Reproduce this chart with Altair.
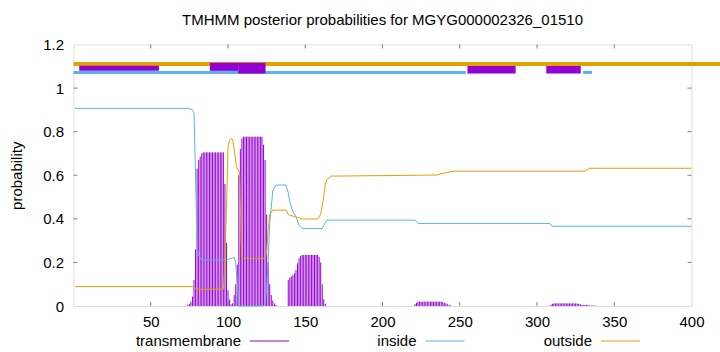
import altair as alt
import pandas as pd

FONT = "Liberation Sans"
FS = 15
PURPLE = "#9400D3"
BLUE = "#56B4E9"
ORANGE = "#E69F00"

TITLE = "TMHMM posterior probabilities for MGYG000002326_01510"

# inside probability (breakpoints)
ins_r = [1, 75, 77, 78, 79, 80, 81, 83, 99, 104, 105, 106, 107, 123, 124, 125, 126, 127,
         129, 131, 137.5, 139, 140, 142, 144, 146, 148, 161, 162, 164, 221, 223, 308, 310, 400]
ins_p = [.907, .907, .9, .885, .6, .27, .23, .211, .211, .223, .2, .1, 0, 0, .01, .08, .2, .38,
         .53, .555, .555, .52, .478, .433, .41, .37, .356, .356, .37, .394, .394, .379, .379, .366, .366]

# outside probability
out_r = [1, 77, 78, 80, 97, 98, 99, 100, 101, 102, 103, 104, 105.5, 107.5, 108.5, 109, 124, 125,
         126, 127, 129, 137.5, 139, 140, 143, 146, 148, 158, 160, 161.5, 163, 164, 167, 235, 240,
         246, 331, 334, 400]
out_p = [.089, .089, .085, .077, .077, .2, .45, .73, .76, .769, .765, .72, .64, .61, .3, .219, .219,
         .25, .35, .42, .44, .44, .42, .417, .41, .405, .399, .399, .42, .48, .56, .58, .596, .601,
         .61, .619, .619, .632, .632]

# transmembrane probability per residue (impulses)
tm_a_res = list(range(74, 132))
tm_a_val = [.006, .01, .02, .043, .12, .26, .63, .67, .685, .70,
            .705, .705, .705, .705, .705, .705, .705, .705, .705, .705, .705, .705, .705, .705,
            .56, .29, .073, .03, .008, .012, .05, .1, .19, .6, .72, .769,
            .777, .777, .777, .777, .777, .777, .777, .777, .777, .777, .777, .777, .777,
            .74, .67, .42, .2, .1, .05, .025, .012, .005]
tm_b_res = list(range(139, 164))
tm_b_val = [.119, .13, .135, .142, .15, .165, .196, .219, .23,
            .234, .234, .234, .234, .234, .234, .234, .234, .234, .234, .234,
            .225, .2, .1, .03, .01]
tm_c_res = list(range(221, 245))
tm_c_val = [.008, .015, .02, .02, .02, .02, .02, .02, .02, .02, .02, .02, .02, .02, .02, .02,
            .02, .02, .018, .015, .012, .008, .005, .003]
tm_d_res = list(range(309, 339))
tm_d_val = [.006, .01, .012, .012, .012, .012, .012, .012, .012, .012, .012, .012, .012, .012,
            .012, .012, .012, .011, .01, .008, .005, .005, .005, .005, .005,
            .002, .002, .002, .002, .002]

# predicted topology strip at the top
out_strip = [0, 425]
out_strip_y = 1.111
in_strip_start = [0, 329.8]
in_strip_end = [253.9, 335.6]
in_strip_y = 1.072
tm_box_start = [3.7, 88.3, 106.6, 255, 306]
tm_box_end = [55.3, 106.6, 124.3, 286.2, 328.3]
tm_box_lo = [1.079, 1.079, 1.067, 1.067, 1.067]
tm_box_hi = [1.102, 1.116, 1.116, 1.101, 1.101]

x_ticks = [50, 100, 150, 200, 250, 300, 350, 400]
y_ticks = [0, 0.2, 0.4, 0.6, 0.8, 1.0, 1.2]

legend_labels = ["transmembrane", "inside", "outside"]
legend_colors = [PURPLE, BLUE, ORANGE]

W, H = 618, 261.5

XS = alt.Scale(domain=[0, 400], nice=False, zero=False)
YS = alt.Scale(domain=[0, 1.2], nice=False, zero=False)
XA = alt.Axis(values=x_ticks, title=None, grid=False, ticks=False, domain=False,
              labelFont=FONT, labelFontSize=FS, labelColor="black", labelPadding=8,
              labelFlush=False)
YA = alt.Axis(values=y_ticks, title="probability", grid=False, ticks=False, domain=False,
              labelFont=FONT, labelFontSize=FS, labelColor="black", labelPadding=10,
              labelExpr="format(datum.value, '.1~f')",
              titleFont=FONT, titleFontSize=FS, titleFontWeight="normal", titleColor="black",
              titleAngle=270, titleX=-57, titleY=H / 2, titleAlign="center",
              titleBaseline="middle")


def X(f):
    return alt.X(f, type="quantitative", scale=XS, axis=XA)


def Y(f):
    return alt.Y(f, type="quantitative", scale=YS, axis=YA)


tm_df = pd.DataFrame({"res": tm_a_res + tm_b_res + tm_c_res + tm_d_res,
                      "p": tm_a_val + tm_b_val + tm_c_val + tm_d_val})
tm_layer = alt.Chart(tm_df).mark_rule(color=PURPLE, strokeWidth=1).encode(
    x=X("res"), y=Y("p"), y2=alt.datum(0))

ins_layer = alt.Chart(pd.DataFrame({"res": ins_r, "p": ins_p})).mark_line(
    color=BLUE, strokeWidth=1).encode(x=X("res"), y=Y("p"))
out_layer = alt.Chart(pd.DataFrame({"res": out_r, "p": out_p})).mark_line(
    color=ORANGE, strokeWidth=1).encode(x=X("res"), y=Y("p"))

strip_o = alt.Chart(pd.DataFrame({"a": [out_strip[0]], "b": [out_strip[1]], "y": [out_strip_y]})).mark_rule(
    color=ORANGE, strokeWidth=4, clip=False).encode(x=X("a"), x2="b", y=Y("y"))
strip_i = alt.Chart(pd.DataFrame({"a": in_strip_start, "b": in_strip_end,
                                  "y": [in_strip_y] * len(in_strip_start)})).mark_rule(
    color=BLUE, strokeWidth=3).encode(x=X("a"), x2="b", y=Y("y"))
strip_tm = alt.Chart(pd.DataFrame({"a": tm_box_start, "b": tm_box_end,
                                   "lo": tm_box_lo, "hi": tm_box_hi})).mark_rect(
    color=PURPLE).encode(x=X("a"), x2="b", y=Y("lo"), y2="hi")

# inward gnuplot-style tick marks on all four sides
TL_X = 4 / (W / 400)
TL_Y = 4 / (H / 1.2)
xt = [v for v in x_ticks if v < 400]
yt = [v for v in y_ticks if 0 < v < 1.2]
tick_df = pd.DataFrame(
    {"x": xt + xt + [0] * len(yt) + [400] * len(yt),
     "x2": xt + xt + [TL_X] * len(yt) + [400 - TL_X] * len(yt),
     "y": [0] * len(xt) + [1.2] * len(xt) + yt + yt,
     "y2": [TL_Y] * len(xt) + [1.2 - TL_Y] * len(xt) + yt + yt})
ticks = alt.Chart(tick_df).mark_rule(color="#808080", strokeWidth=1).encode(
    x=X("x"), x2="x2", y=Y("y"), y2="y2")

# title as a text mark placed above the plot
title_layer = alt.Chart(pd.DataFrame({"t": [TITLE]})).mark_text(
    align="center", baseline="alphabetic", font=FONT, fontSize=FS, color="black").encode(
    text="t:N", x=alt.value(W / 2), y=alt.value(-19.5))

# key below the plot (text right-justified, then sample line)
key_layers = []
key_y = 296.5
for i, (lab, col) in enumerate(zip(legend_labels, legend_colors)):
    right = 167.5 + 175.5 * i
    key_layers.append(alt.Chart(pd.DataFrame({"l": [lab]})).mark_text(
        align="right", baseline="middle", font=FONT, fontSize=FS, color="black").encode(
        text="l:N", x=alt.value(right), y=alt.value(key_y)))
    key_layers.append(alt.Chart(pd.DataFrame({"l": [lab]})).mark_rule(
        color=col, strokeWidth=1).encode(
        x=alt.value(right + 9), x2=alt.value(right + 48), y=alt.value(key_y)))

chart = alt.layer(tm_layer, ins_layer, out_layer, strip_o, strip_i, strip_tm, ticks,
                  title_layer, *key_layers).properties(
    width=W, height=H,
    autosize=alt.AutoSizeParams(type="none"),
    padding={"left": 73.5, "top": 44.5, "right": 28.5, "bottom": 46},
).configure_view(stroke="black", strokeWidth=1).configure(background="white")

chart.save("out.html", embed_options={"renderer": "svg", "actions": False})
